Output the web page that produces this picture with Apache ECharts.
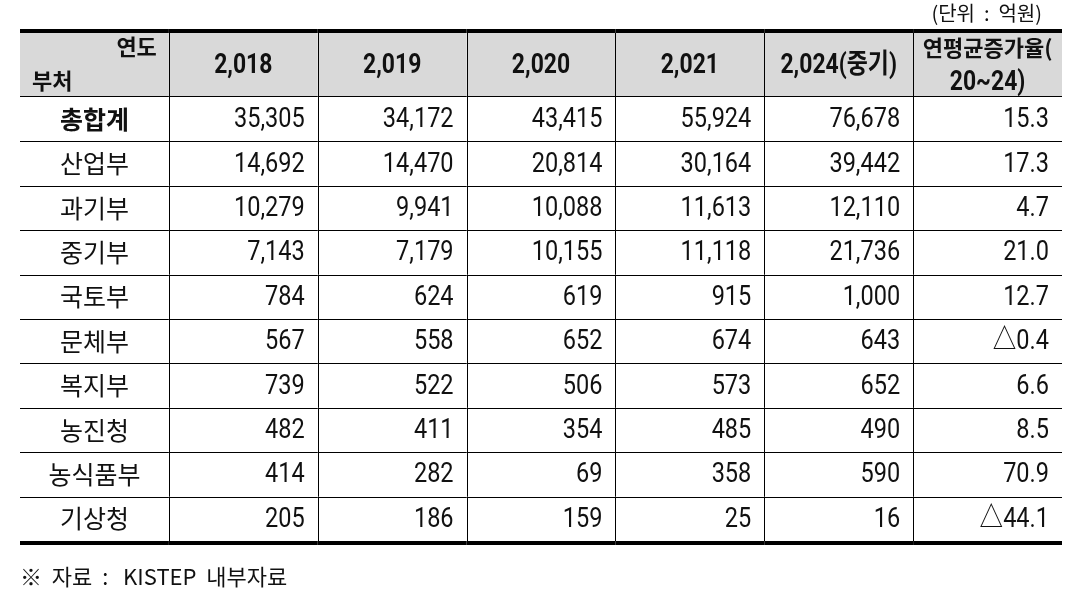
<!DOCTYPE html>
<html><head><meta charset="utf-8">
<script src="https://cdn.jsdelivr.net/npm/echarts@6/dist/echarts.min.js"></script>
<style>html,body{margin:0;padding:0;background:#fff}#c{width:1078px;height:608px}</style>
</head><body><div id="c"></div>
<script>
// ---- data ----
const colKeys = ['dept', '2018', '2019', '2020', '2021', '2024', 'rate'];
const yearHeaders = ['2,018', '2,019', '2,020', '2,021', '2,024(중기)'];
const cornerTop = '연도';
const cornerBottom = '부처';
const rateHeader = ['연평균증가율(', '20~24)'];
const ministries = ['총합계', '산업부', '과기부', '중기부', '국토부', '문체부', '복지부', '농진청', '농식품부', '기상청'];
const v2018 = [35305, 14692, 10279, 7143, 784, 567, 739, 482, 414, 205];
const v2019 = [34172, 14470, 9941, 7179, 624, 558, 522, 411, 282, 186];
const v2020 = [43415, 20814, 10088, 10155, 619, 652, 506, 354, 69, 159];
const v2021 = [55924, 30164, 11613, 11118, 915, 674, 573, 485, 358, 25];
const v2024 = [76678, 39442, 12110, 21736, 1000, 643, 652, 490, 590, 16];
const growth = [15.3, 17.3, 4.7, 21.0, 12.7, -0.4, 6.6, 8.5, 70.9, -44.1];
const unitText = '(단위  :  억원)';
const sourceText = '※  자료  :   KISTEP  내부자료';

// ---- build ----
const KR = "'Noto Sans CJK KR', sans-serif";
const NUM = "Roboto, 'Noto Sans CJK KR', sans-serif";
const nCols = colKeys.length, nRows = ministries.length;
const yearSeries = [v2018, v2019, v2020, v2021, v2024];
const fmtInt = v => v.toLocaleString('en-US');
const fmtRate = v => (v < 0 ? '△' + Math.abs(v).toFixed(1) : v.toFixed(1));

const headerData = colKeys.map((k, c) => [c, 0]);
const bodyData = [];
ministries.forEach((m, r) => {
  bodyData.push([0, r, m]);
  yearSeries.forEach((arr, i) => bodyData.push([i + 1, r, fmtInt(arr[r])]));
  bodyData.push([nCols - 1, r, fmtRate(growth[r])]);
});

function cell(api) {
  const c = api.value(0), r = api.value(1);
  const p = api.coord([c, r]);
  const s = api.size([1, 1]);
  return { c, r, x0: p[0] - s[0] / 2, y0: p[1] - s[1] / 2, w: s[0], h: s[1], cx: p[0], cy: p[1] };
}
function line(x1, y1, x2, y2, lw) {
  return { type: 'line', shape: { x1, y1, x2, y2 }, style: { stroke: '#000', lineWidth: lw } };
}
function txt(x, y, text, font, align, sx) {
  return { type: 'text', x, y, scaleX: sx || 1, style: { text, font, align, verticalAlign: 'middle', fill: '#111' } };
}

function renderHeaderFill(params, api) {
  const k = cell(api);
  return { type: 'rect', shape: { x: k.x0, y: k.y0, width: k.w, height: k.h }, style: { fill: '#d9d9d9' } };
}
function renderHeader(params, api) {
  const k = cell(api);
  const ch = [];
  ch.push(line(k.x0, k.y0 - 2, k.x0 + k.w, k.y0 - 2, 4));
  ch.push(line(k.x0, Math.round(k.y0 + k.h) - 0.5, k.x0 + k.w, Math.round(k.y0 + k.h) - 0.5, 1));
  if (k.c < nCols - 1) ch.push(line(Math.round(k.x0 + k.w) + 0.5, k.y0, Math.round(k.x0 + k.w) + 0.5, k.y0 + k.h, 1));
  const bold = 'bold 22px ' + KR;
  const boldNum = 'bold 27px ' + NUM;
  if (k.c === 0) {
    ch.push(txt(k.x0 + k.w - 12, k.y0 + 14, cornerTop, bold, 'right'));
    ch.push(txt(k.x0 + 12, k.y0 + 48, cornerBottom, bold, 'left'));
  } else if (k.c === nCols - 1) {
    ch.push(txt(k.cx, k.cy - 17, rateHeader[0], bold, 'center'));
    ch.push(txt(k.cx, k.cy + 18, rateHeader[1], boldNum, 'center', 0.85));
  } else {
    ch.push(txt(k.cx, k.cy + 1, yearHeaders[k.c - 1], boldNum, 'center', 0.85));
  }
  return { type: 'group', children: ch };
}
function renderBody(params, api) {
  const k = cell(api);
  const text = api.value(2);
  const ch = [];
  if (k.c < nCols - 1) ch.push(line(Math.round(k.x0 + k.w) + 0.5, k.y0, Math.round(k.x0 + k.w) + 0.5, k.y0 + k.h, 1));
  if (k.r < nRows - 1) {
    const yb = Math.round(k.y0 + k.h) + 0.5;
    ch.push(line(k.x0, yb, k.x0 + k.w, yb, 1));
  } else {
    ch.push(line(k.x0, k.y0 + k.h + 2, k.x0 + k.w, k.y0 + k.h + 2, 4));
  }
  if (k.c === 0) {
    const f = k.r === 0 ? 'bold 25px ' + KR : '25px ' + KR;
    ch.push(txt(k.cx, k.cy, text, f, 'center'));
  } else {
    ch.push(txt(k.x0 + k.w - 13, k.cy + 1, text, '28px ' + NUM, 'right', 0.84));
  }
  return { type: 'group', children: ch };
}

const chart = echarts.init(document.getElementById('c'), null, { renderer: 'canvas' });
chart.setOption({
  animation: false,
  backgroundColor: '#fff',
  title: [
    { text: unitText, right: 36, top: 3, padding: 0,
      textStyle: { fontFamily: KR, fontSize: 20, fontWeight: 'normal', color: '#111' } },
    { text: sourceText, left: 20, top: 566, padding: 0,
      textStyle: { fontFamily: KR, fontSize: 22, fontWeight: 'normal', color: '#111' } }
  ],
  grid: [
    { left: 20, right: 16, top: 33, height: 64 },
    { left: 20, right: 16, top: 97, height: 444 }
  ],
  xAxis: [
    { type: 'category', data: colKeys, gridIndex: 0, show: false },
    { type: 'category', data: colKeys, gridIndex: 1, show: false }
  ],
  yAxis: [
    { type: 'category', data: ['header'], gridIndex: 0, show: false },
    { type: 'category', data: ministries, gridIndex: 1, inverse: true, show: false }
  ],
  series: [
    { type: 'custom', xAxisIndex: 0, yAxisIndex: 0, data: headerData, renderItem: renderHeaderFill, z: 1, silent: true },
    { type: 'custom', xAxisIndex: 0, yAxisIndex: 0, data: headerData, renderItem: renderHeader, z: 2, silent: true },
    { type: 'custom', xAxisIndex: 1, yAxisIndex: 1, data: bodyData, renderItem: renderBody, z: 2, silent: true,
      encode: { x: 0, y: 1 } }
  ]
});
</script></body></html>
